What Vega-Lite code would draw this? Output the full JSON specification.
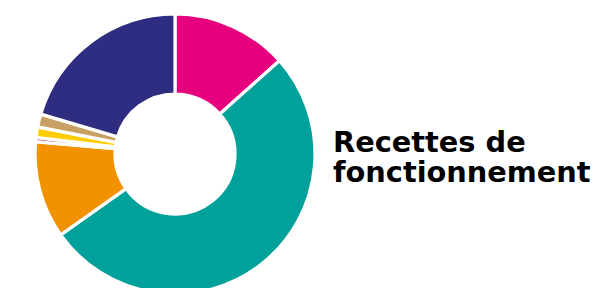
{
  "$schema": "https://vega.github.io/schema/vega-lite/v6.json",
  "width": 350,
  "height": 308,
  "padding": 0,
  "background": "white",
  "view": {"stroke": null},
  "title": {
    "text": ["Recettes de", "fonctionnement"],
    "orient": "bottom",
    "anchor": "start",
    "align": "left",
    "baseline": "alphabetic",
    "font": "DejaVu Sans",
    "fontSize": 28.8,
    "fontWeight": "bold",
    "color": "#000000",
    "lineHeight": 30,
    "offset": 0,
    "dx": 333,
    "dy": -156
  },
  "data": {
    "values": [
      {"poste": "Poste 1", "rang": 1, "part": 13.4},
      {"poste": "Poste 2", "rang": 2, "part": 51.8},
      {"poste": "Poste 3", "rang": 3, "part": 11.2},
      {"poste": "Poste 4", "rang": 4, "part": 0.5},
      {"poste": "Poste 5", "rang": 5, "part": 1.2},
      {"poste": "Poste 6", "rang": 6, "part": 1.5},
      {"poste": "Poste 7", "rang": 7, "part": 20.4}
    ]
  },
  "mark": {"type": "arc", "outerRadius": 140, "innerRadius": 60, "stroke": "white", "strokeWidth": 3.2},
  "encoding": {
    "theta": {"field": "part", "type": "quantitative", "stack": true},
    "color": {
      "field": "poste",
      "type": "nominal",
      "scale": {
        "domain": ["Poste 1", "Poste 2", "Poste 3", "Poste 4", "Poste 5", "Poste 6", "Poste 7"],
        "range": ["#E6007E", "#00A19A", "#F39200", "#B04A8A", "#FFCC00", "#C9A064", "#2E2D82"]
      },
      "legend": null
    },
    "order": {"field": "rang", "type": "quantitative"}
  }
}
